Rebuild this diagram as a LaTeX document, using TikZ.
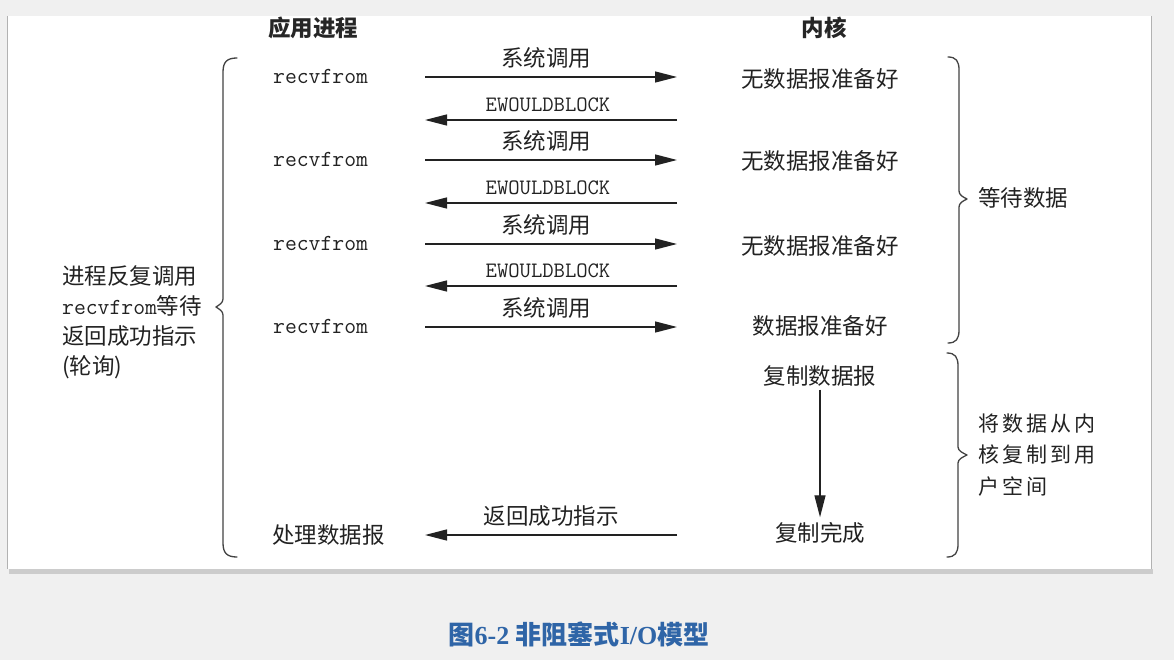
\documentclass[tikz,border=0pt]{standalone}
\usepackage{fontspec}
\setmainfont{Liberation Serif}
\newfontfamily\cjk{Noto Sans CJK SC}
\usetikzlibrary{arrows.meta,positioning}
\definecolor{pagegray}{HTML}{F0F0F0}
\definecolor{inkgray}{HTML}{222222}
\definecolor{capblue}{HTML}{2F65A7}

\begin{document}
\begin{tikzpicture}[x=1pt, y=-1pt,
  txt/.style={font=\cjk\fontsize{22.5}{26}\selectfont, text=inkgray, inner sep=1pt},
  code/.style={font=\ttfamily\fontsize{23}{26}\selectfont, text=inkgray, inner sep=1pt},
  errtxt/.style={font=\ttfamily\fontsize{22}{24}\selectfont, text=inkgray, inner sep=1pt},
  head/.style={font=\cjk\bfseries\fontsize{22.5}{26}\selectfont, text=black!85, inner sep=1pt},
  arrow/.style={-{Triangle[length=22pt,width=11pt]}, line width=1.3pt, draw=inkgray},
  bracebar/.style={line width=1.3pt, draw=inkgray!85, line join=round, line cap=round}
]
\useasboundingbox (0,0) rectangle (1174,660);
\fill[pagegray] (0,0) rectangle (1174,660);
% panel with shadow
\fill[black!20] (9,569) rectangle (1153,574);
\fill[white] (8,16) rectangle (1152,569);
\draw[black!30] (7.5,16) -- (7.5,569);
\draw[black!30] (1151.5,16) -- (1151.5,569);

\node[head] (app) at (313,28) {应用进程};
\node[head] (kern) at (824,28) {内核};

% system calls
\foreach \i/\y in {1/77,2/160,3/244,4/327} {
  \node[code, anchor=west] (recv\i) at (272,\y-1) {recvfrom};
  \coordinate (call\i) at (425,\y);
  \coordinate (kin\i) at (677,\y);
  \draw[arrow] (call\i) -- node[txt, above=7pt, xshift=-5pt] {系统调用} (kin\i);
}
% error returns
\foreach \i/\y in {1/120,2/203,3/286} {
  \coordinate (kout\i) at (677,\y);
  \coordinate (ret\i) at (425,\y);
  \draw[arrow] (kout\i) -- node[errtxt, above=7pt, xshift=-3pt] {EWOULDBLOCK} (ret\i);
}

\node[txt] (k1) at (820,79) {无数据报准备好};
\node[txt] (k2) at (820,161) {无数据报准备好};
\node[txt] (k3) at (820,246) {无数据报准备好};
\node[txt] (k4) at (820,326) {数据报准备好};
\node[txt] (copy) at (820,376) {复制数据报};
\node[txt] (done) at (820,533) {复制完成};
\draw[arrow, shorten <=2pt, shorten >=4pt] (copy) -- (done);

\coordinate (kdone) at (677,535);
\coordinate (udone) at (425,535);
\draw[arrow] (kdone) -- node[txt, above=7pt] {返回成功指示} (udone);
\node[txt, anchor=west] (proc) at (271,535) {处理数据报};

% braces
\draw[bracebar] (237,58) .. controls (227,58) and (223,62) .. (223,72) -- (223,299)
  .. controls (223,303) and (219,305) .. (216,307) .. controls (219,309) and (223,311) .. (223,315)
  -- (223,543) .. controls (223,553) and (227,557) .. (237,557);
\draw[bracebar] (948,57) .. controls (956,57) and (959,61) .. (959,70) -- (959,191)
  .. controls (959,195) and (963,197) .. (967,199) .. controls (963,201) and (959,203) .. (959,207)
  -- (959,330) .. controls (959,339) and (956,343) .. (948,343);
\draw[bracebar] (947,353) .. controls (955,353) and (958,357) .. (958,366) -- (958,447)
  .. controls (958,451) and (963,453) .. (967,455) .. controls (963,457) and (958,459) .. (958,463)
  -- (958,544) .. controls (958,553) and (955,557) .. (947,557);

\node[txt, anchor=west, align=left, font=\cjk\fontsize{22.5}{30}\selectfont] (poll) at (61,322)
  {进程反复调用\\{\ttfamily\fontsize{23}{30}\selectfont recvfrom}等待\\返回成功指示\\(轮询)};
\node[txt, anchor=west] (waittxt) at (977,198) {等待数据};
\node[txt, anchor=west, align=left, font=\cjk\fontsize{21}{31.5}\selectfont\addfontfeature{LetterSpace=15}] (copytxt) at (977,455)
  {将数据从内\\核复制到用\\户空间};

\node[font=\bfseries\fontsize{26}{28}\selectfont, text=capblue] (caption) at (579,634)
  {{\cjk 图}6-2 {\cjk 非阻塞式}I/O{\cjk 模型}};
\end{tikzpicture}
\end{document}
